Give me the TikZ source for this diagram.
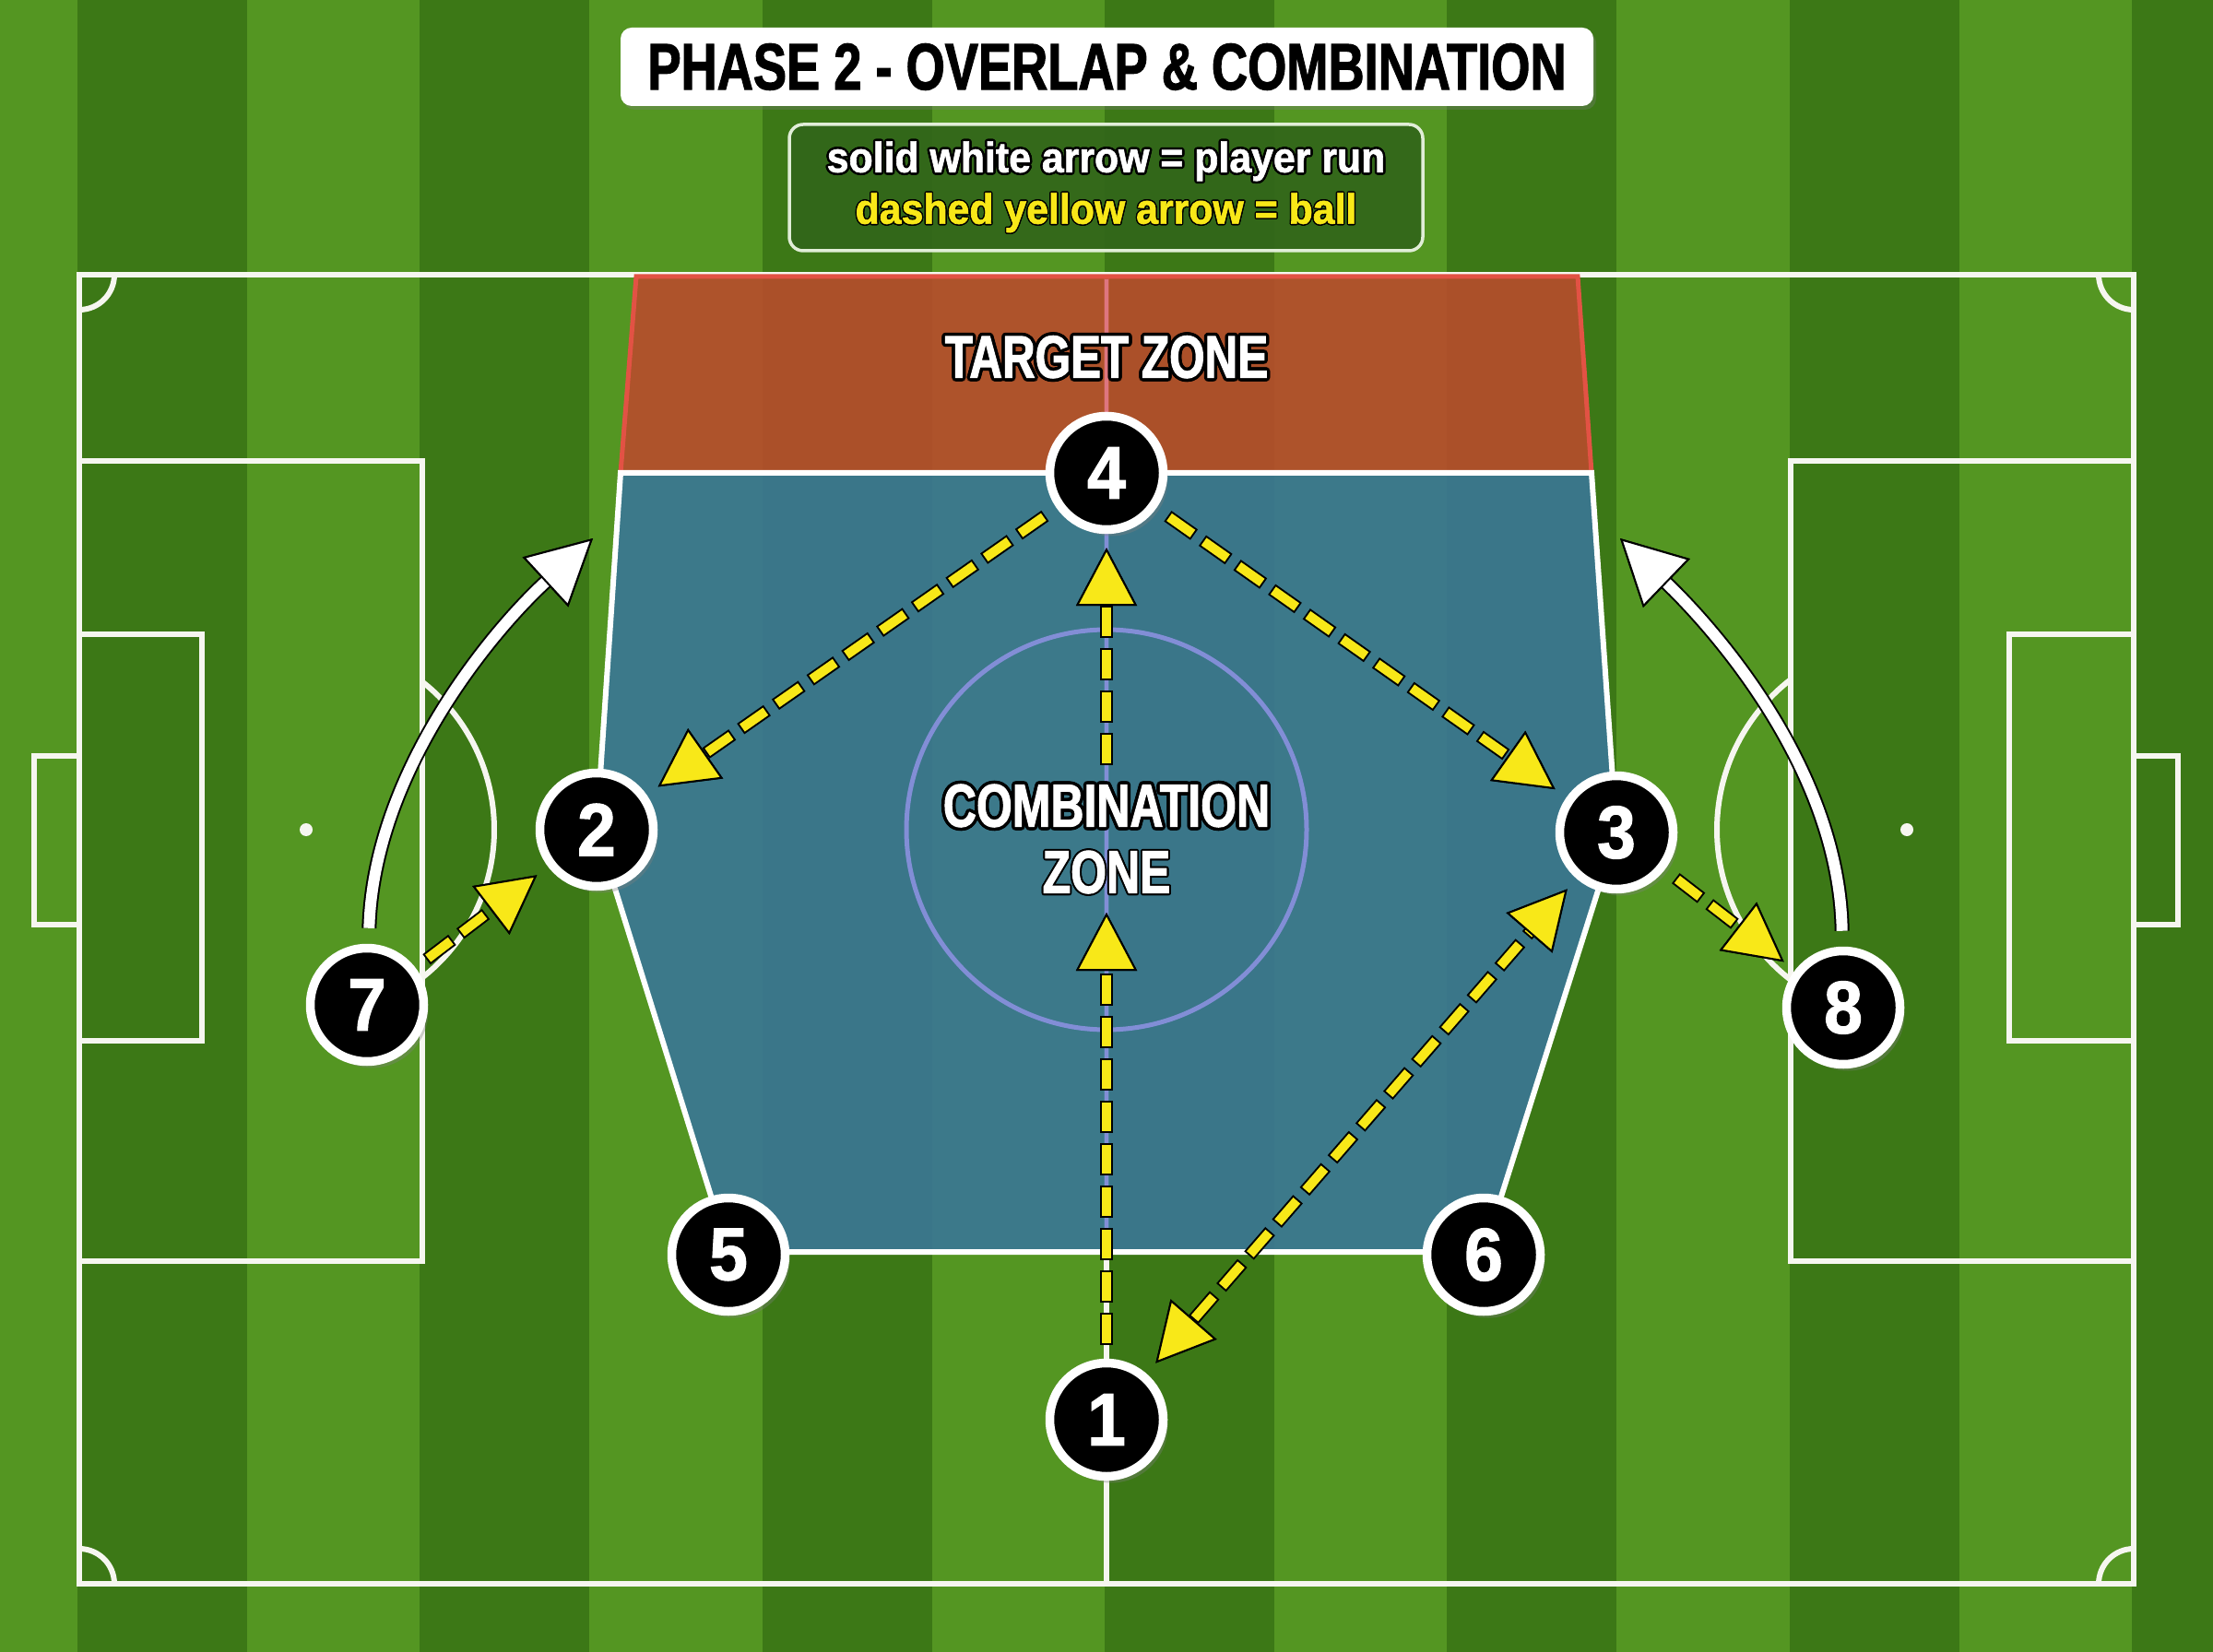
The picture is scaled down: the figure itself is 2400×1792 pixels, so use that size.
\documentclass[tikz,border=0pt]{standalone}
\usepackage{fontspec}
\newfontfamily\headfont[FakeStretch=0.76, FakeBold=1.6]{Liberation Sans}
\newfontfamily\labelfont[FakeStretch=0.93, FakeBold=1.4]{Liberation Sans}
\usepackage{contour}
\usetikzlibrary{arrows.meta,shadows}

\definecolor{grasslight}{RGB}{84,150,34}
\definecolor{grassdark}{RGB}{60,120,22}
\definecolor{lineink}{RGB}{246,246,240}
\definecolor{zonered}{RGB}{184,76,44}
\definecolor{zoneredline}{RGB}{226,82,68}
\definecolor{zonepink}{RGB}{222,118,128}
\definecolor{zoneblue}{RGB}{58,118,150}
\definecolor{circleblue}{RGB}{130,142,214}
\definecolor{ballyellow}{RGB}{248,232,24}
\definecolor{legendgreen}{RGB}{50,102,26}
\definecolor{legendline}{RGB}{225,238,215}

\begin{document}
\begin{tikzpicture}[x=0.1mm, y=-0.1mm]

	\tikzstyle pitch lines=[draw=lineink, line width=0.6mm];
	\tikzstyle zone text=[text=white, font=\headfont\bfseries\fontsize{18.5pt}{20.5pt}\selectfont, align=center];
	\tikzstyle player=[circle, fill=black, draw=white, line width=0.95mm, minimum size=12.3mm, inner sep=0pt, text=white, font=\labelfont\bfseries\fontsize{23pt}{23pt}\selectfont, drop shadow={opacity=0.35, shadow xshift=0.5mm, shadow yshift=-0.7mm}];
	\tikzstyle ball back=[draw=black, line width=1.4mm, dash=on 3.5mm off 1.1mm phase 0mm, shorten <=1.5mm, shorten >=1.5mm, >={Triangle[length=6.3mm, width=6.6mm, line width=0.2mm, color=black, fill=ballyellow]}];
	\tikzstyle ball=[draw=ballyellow, line width=1mm, dash=on 3.1mm off 1.5mm phase 4.4mm, shorten <=1.5mm, shorten >=1.5mm, >={Triangle[length=6.3mm, width=6.6mm, line width=0.2mm, color=black, fill=ballyellow]}];
	\tikzstyle run back=[draw=black, line width=1.6mm, shorten <=1.7mm, -{Triangle[length=7mm, width=7.3mm, line width=0.2mm, color=black, fill=white]}];
	\tikzstyle run=[draw=white, line width=1.2mm, shorten <=1.7mm, -{Triangle[length=7mm, width=7.3mm, line width=0.2mm, color=black, fill=white]}];

	\useasboundingbox (0,0) rectangle (2400,1792);
	\clip (0,0) rectangle (2400,1792);

	% grass
	\fill[grasslight] (0,0) rectangle (2400,1792);
	\foreach \s in {0,...,6}
		\fill[grassdark] ({84+371.3*\s},0) rectangle ++(184,1792);

	% pitch
	\draw[pitch lines] (86,298) rectangle (2314,1718);
	\draw[pitch lines] (1200,298) -- (1200,1718);
	\draw[pitch lines] (86,500) rectangle (458,1368);
	\draw[pitch lines] (86,688) rectangle (219,1129);
	\draw[pitch lines] (86,820) -- (37,820) -- (37,1003) -- (86,1003);
	\draw[pitch lines] (1942,500) rectangle (2314,1368);
	\draw[pitch lines] (2179,688) rectangle (2314,1129);
	\draw[pitch lines] (2314,820) -- (2362,820) -- (2362,1003) -- (2314,1003);
	\fill[lineink] (332,900) circle[radius=7];
	\fill[lineink] (2068,900) circle[radius=7];
	\draw[pitch lines] (332,900) ++(-51.8:204) arc[start angle=-51.8, end angle=51.8, radius=204];
	\draw[pitch lines] (2068,900) ++(127.7:206) arc[start angle=127.7, end angle=232.3, radius=206];
	\draw[pitch lines] (124,298) arc[start angle=0, end angle=90, radius=38];
	\draw[pitch lines] (2276,298) arc[start angle=180, end angle=90, radius=38];
	\draw[pitch lines] (124,1718) arc[start angle=0, end angle=-90, radius=38];
	\draw[pitch lines] (2276,1718) arc[start angle=180, end angle=270, radius=38];

	% zones
	\draw[fill=zonered, fill opacity=0.9, draw=zoneredline, line width=0.5mm] (690,300) -- (1711,300) -- (1726,513) -- (673,513) -- cycle;
	\draw[fill=zoneblue, fill opacity=0.9, draw=white, line width=0.6mm] (673,513) -- (1726,513) -- (1753,903) -- (1609,1358) -- (790,1358) -- (647,900) -- cycle;
	\draw[zonepink, line width=0.35mm] (1200,303) -- (1200,509);
	\draw[circleblue, line width=0.4mm] (1200,517) -- (1200,1355);
	\draw[circleblue, line width=0.5mm] (1200,900) circle[radius=217];

	\node[zone text] (target) at (1200,389) {\contourlength{0.35mm}\contour{black}{TARGET ZONE}};
	\node[zone text, font=\headfont\bfseries\fontsize{18.7pt}{20.5pt}\selectfont] (combination) at (1200,911) {\contourlength{0.35mm}\contour{black}{COMBINATION}\\\contour{black}{ZONE}};

	% players
	\foreach \n/\x/\y in {1/1200/1540, 2/647/900, 3/1753/903, 4/1200/513, 5/790/1361, 6/1609/1361, 7/398/1090, 8/1999/1093}
		\node[player] (p\n) at (\x,\y) {\n};

	\coordinate (run7) at (643,584);
	\coordinate (run8) at (1757,584);
	\coordinate (ballmid) at (1200,975);
	\coordinate (ballup) at (1200,845);

	% player runs
	\draw[run back] (p7) .. controls (405,840) and (531,687) .. (run7);
	\draw[run] (p7) .. controls (405,840) and (531,687) .. (run7);
	\draw[run back] (p8) .. controls (1995,840) and (1867,690) .. (run8);
	\draw[run] (p8) .. controls (1995,840) and (1867,690) .. (run8);

	% passes
	\foreach \a/\b in {p4/p2, p4/p3, p7/p2, p3/p8, p1/ballmid, ballup/p4}{
		\draw[ball back, ->] (\a) -- (\b);
		\draw[ball, ->] (\a) -- (\b);
	}
	\draw[ball back, <->] (p1) -- (p3);
	\draw[ball, <->] (p1) -- (p3);

	% title and key
	\node[fill=white, rounded corners=1.2mm, minimum width=105.5mm, minimum height=8.5mm, inner sep=0pt, font=\headfont\bfseries\fontsize{20.3pt}{20.3pt}\selectfont, drop shadow={opacity=0.3, shadow xshift=0.3mm, shadow yshift=-0.4mm}] (title) at (1200.5,72.5) {PHASE 2 - OVERLAP \& COMBINATION};
	\node[draw=legendline, line width=0.35mm, fill=legendgreen, fill opacity=0.92, text opacity=1, rounded corners=1.5mm, minimum width=68.7mm, minimum height=13.7mm, inner sep=0pt, align=center, font=\labelfont\bfseries\fontsize{13.1pt}{15.9pt}\selectfont] (legend) at (1199.5,203.5) {\contourlength{0.25mm}\textcolor{white}{\contour{black}{solid white arrow = player run}}\\\textcolor{ballyellow}{\contour{black}{dashed yellow arrow = ball}}};

\end{tikzpicture}
\end{document}
